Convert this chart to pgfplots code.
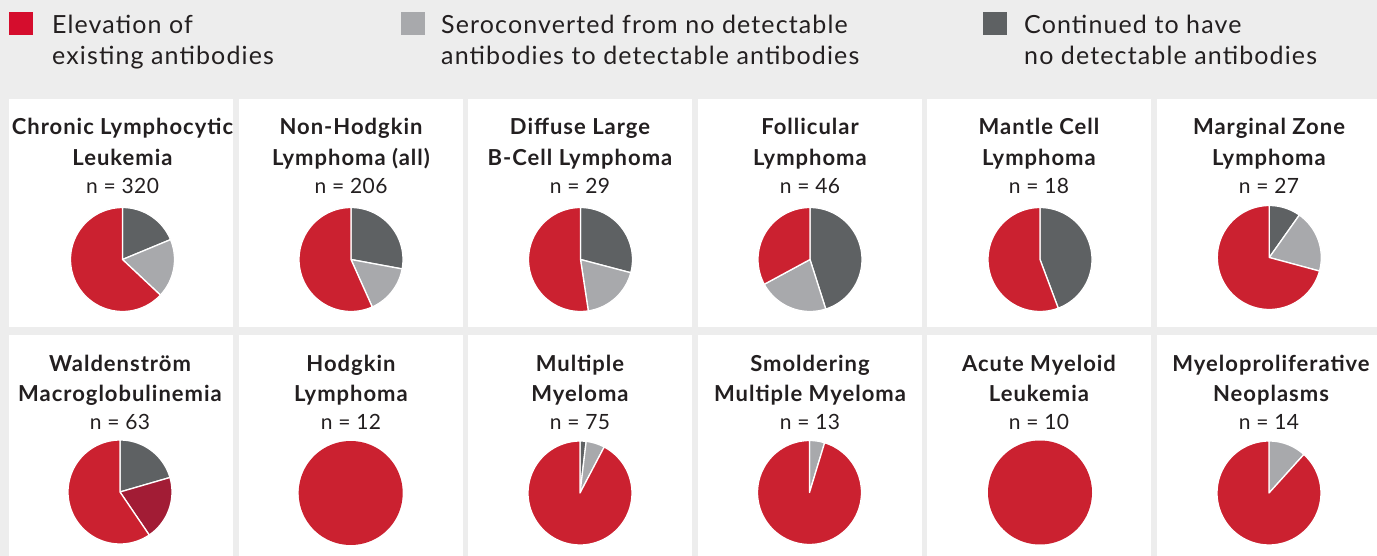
\documentclass[border=0pt]{standalone}
\usepackage{fontspec}
\setmainfont{Lato}
\usepackage{pgfplots}
\pgfplotsset{compat=1.18}
\definecolor{bg}{HTML}{EDEDED}
\definecolor{cred}{HTML}{CB2130}
\definecolor{lred}{HTML}{D50D2D}
\definecolor{cdark}{HTML}{5E6163}
\definecolor{clight}{HTML}{A8A9AC}
\definecolor{cdred}{HTML}{A21C35}
\definecolor{txt}{HTML}{231F20}
\newcommand\tf{\fontsize{22}{26}\selectfont\bfseries\addfontfeatures{LetterSpace=4.5}}
\newcommand\nf{\fontsize{21}{26}\selectfont\addfontfeatures{LetterSpace=2}}
\newcommand\lf{\fontsize{25}{30}\selectfont\addfontfeatures{LetterSpace=4.5}}
\pgfplotsset{pieax/.style={width=104pt,height=104pt,scale only axis,
  xmin=-1,xmax=1,ymin=-1,ymax=1,hide axis,clip=false,anchor=center}}
\newcommand{\slice}[3]{\addplot[fill=#3,draw=white,line width=1.3pt,line join=round,
  domain=#1:#2,samples=90] ({sin(x)},{cos(x)}) -- (axis cs:0,0) -- cycle;}
% pie: cx, cy, dark, light, darkred, red  (percent, clockwise from top)
\newcommand{\pie}[6]{%
  \pgfmathsetmacro\pA{#3*3.6}%
  \pgfmathsetmacro\pB{(#3+#4)*3.6}%
  \pgfmathsetmacro\pC{(#3+#4+#5)*3.6}%
  \begin{axis}[pieax,at={(#1pt,-#2pt)}]
  \ifdim #3pt>0pt \slice{0}{\pA}{cdark}\fi
  \ifdim #4pt>0pt \slice{\pA}{\pB}{clight}\fi
  \ifdim #5pt>0pt \slice{\pB}{\pC}{cdred}\fi
  \ifdim \pC pt>0pt \slice{\pC}{360}{cred}\else
  \addplot[fill=cred,draw=none,domain=0:360,samples=120] ({sin(x)},{cos(x)}) -- cycle;\fi
  \end{axis}}
\begin{document}
\begin{tikzpicture}
\useasboundingbox (0,0) rectangle (1377pt,-556pt);
\fill[bg] (0,0) rectangle (1377pt,-556pt);
% panels
\foreach \x in {9,239,468,698,927,1157}{
  \fill[white] (\x pt,-99pt) rectangle ({\x pt+224pt},-327pt);
  \fill[white] (\x pt,-335pt) rectangle ({\x pt+224pt},-565pt);
}
% legend
\fill[lred] (9pt,-12pt) rectangle (33pt,-35pt);
\fill[clight] (401pt,-12pt) rectangle (425pt,-35pt);
\fill[cdark] (983pt,-12pt) rectangle (1007pt,-35pt);
\begin{scope}[every node/.style={anchor=base west,inner sep=0pt,text=txt,font=\lf}]
\node at (52pt,-33.3pt) {Elevation of};
\node at (52pt,-64.3pt) {existing antibodies};
\node at (441pt,-33.3pt) {Seroconverted from no detectable};
\node at (441pt,-64.3pt) {antibodies to detectable antibodies};
\node at (1024pt,-33.3pt) {Continued to have};
\node at (1024pt,-64.3pt) {no detectable antibodies};
\end{scope}
% titles
\begin{scope}[every node/.style={anchor=base,inner sep=0pt,text=txt}]
\node[font=\tf] at (122.5pt,-134.3pt) {Chronic Lymphocytic};
\node[font=\tf] at (122.5pt,-165.5pt) {Leukemia};
\node[font=\nf] at (122.5pt,-194pt) {n = 320};
\node[font=\tf] at (351pt,-134.3pt) {Non-Hodgkin};
\node[font=\tf] at (351pt,-165.5pt) {Lymphoma (all)};
\node[font=\nf] at (351pt,-194pt) {n = 206};
\node[font=\tf] at (580pt,-134.3pt) {Diffuse Large};
\node[font=\tf] at (580pt,-165.5pt) {B-Cell Lymphoma};
\node[font=\nf] at (580pt,-194pt) {n = 29};
\node[font=\tf] at (810pt,-134.3pt) {Follicular};
\node[font=\tf] at (810pt,-165.5pt) {Lymphoma};
\node[font=\nf] at (810pt,-194pt) {n = 46};
\node[font=\tf] at (1039pt,-134.3pt) {Mantle Cell};
\node[font=\tf] at (1039pt,-165.5pt) {Lymphoma};
\node[font=\nf] at (1039pt,-194pt) {n = 18};
\node[font=\tf] at (1269pt,-134.3pt) {Marginal Zone};
\node[font=\tf] at (1269pt,-165.5pt) {Lymphoma};
\node[font=\nf] at (1269pt,-194pt) {n = 27};
%
\node[font=\tf] at (120pt,-371pt) {Waldenström};
\node[font=\tf] at (120pt,-401pt) {Macroglobulinemia};
\node[font=\nf] at (120pt,-429.5pt) {n = 63};
\node[font=\tf] at (351pt,-371pt) {Hodgkin};
\node[font=\tf] at (351pt,-401pt) {Lymphoma};
\node[font=\nf] at (351pt,-429.5pt) {n = 12};
\node[font=\tf] at (580pt,-371pt) {Multiple};
\node[font=\tf] at (580pt,-401pt) {Myeloma};
\node[font=\nf] at (580pt,-429.5pt) {n = 75};
\node[font=\tf] at (810pt,-371pt) {Smoldering};
\node[font=\tf] at (810pt,-401pt) {Multiple Myeloma};
\node[font=\nf] at (810pt,-429.5pt) {n = 13};
\node[font=\tf] at (1039pt,-371pt) {Acute Myeloid};
\node[font=\tf] at (1039pt,-401pt) {Leukemia};
\node[font=\nf] at (1039pt,-429.5pt) {n = 10};
\node[font=\tf] at (1271pt,-371pt) {Myeloproliferative};
\node[font=\tf] at (1271pt,-401pt) {Neoplasms};
\node[font=\nf] at (1269pt,-429.5pt) {n = 14};
\end{scope}
% pies
\pie{122.5}{259.5}{18.75}{18.25}{0}{63.0}
\pie{351}{259.5}{27.9}{15.4}{0}{56.7}
\pie{580.5}{259.5}{29.1}{18.5}{0}{52.4}
\pie{810}{259.5}{45.1}{22.0}{0}{32.9}
\pie{1040}{259.5}{44.3}{0}{0}{55.7}
\pie{1269.3}{257.5}{9.8}{19.4}{0}{70.8}
\pie{120}{492}{20.5}{0}{20.0}{59.5}
\pie{350.7}{493}{0}{0}{0}{100}
\pie{580}{493}{1.9}{5.8}{0}{92.3}
\pie{809.5}{492.5}{0}{4.7}{0}{95.3}
\pie{1040}{492.5}{0}{0}{0}{100}
\pie{1269}{493}{0}{11.7}{0}{88.3}
\end{tikzpicture}
\end{document}
